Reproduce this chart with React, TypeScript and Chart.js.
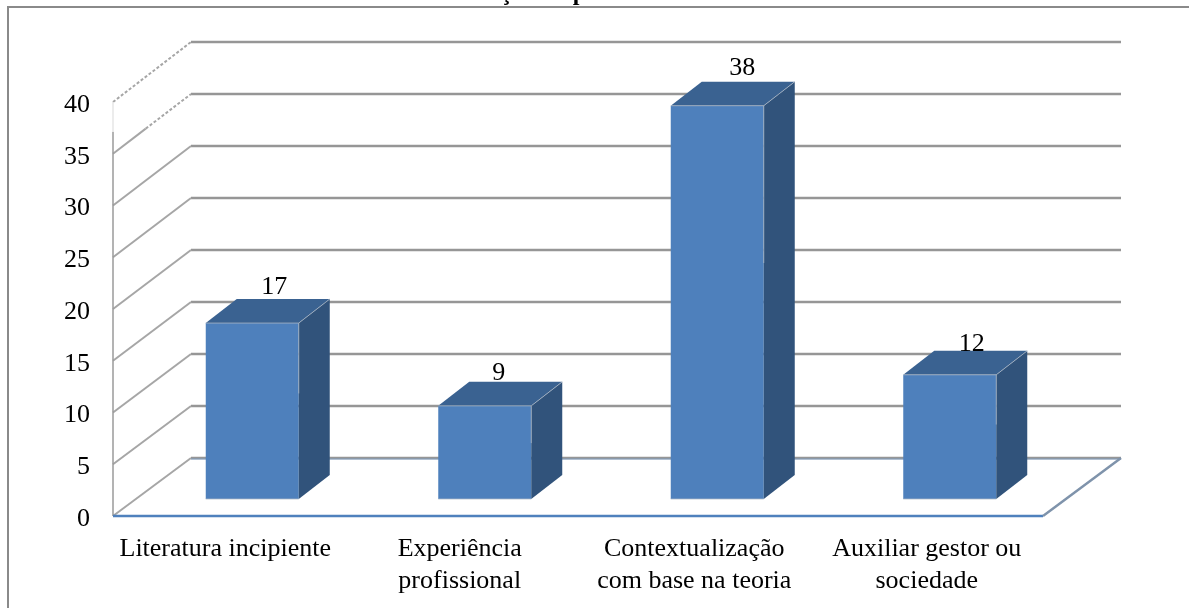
import React, { useEffect, useRef } from "react";
import { Chart, registerables } from "chart.js";

Chart.register(...registerables);

const categories = [
  "Literatura incipiente",
  ["Experiência", "profissional"],
  ["Contextualização", "com base na teoria"],
  ["Auxiliar gestor ou", "sociedade"],
];
const values = [17, 9, 38, 12];
const yTicks = [0, 5, 10, 15, 20, 25, 30, 35, 40];
const titleText = "Justificação do problema";

const SERIF = '"Liberation Serif", "Times New Roman", serif';
const WALL_DX = 78;
const BAR_DX = 23;
const BAR_DY = -17;
const BAR_DEPTH_X = 31;
const BAR_DEPTH_Y = -24;
// Where each value label sits relative to the top centre of its bar's front face.
const LABEL_OFFSETS = [
  [22, -36],
  [14, -33],
  [25, -38],
  [22, -31],
];
// Sideways nudge of the category captions under the floor.
const CAPTION_NUDGE = [-4, -2, 0, 0];

// Depth of the floor and walls grows by a hair towards the top of the box.
const wallLift = (v: number) => 58 + (2 * v) / 40;

const line = (ctx: any, x1: number, y1: number, x2: number, y2: number) => {
  ctx.beginPath();
  ctx.moveTo(x1, y1);
  ctx.lineTo(x2, y2);
  ctx.stroke();
};

const boxPlugin = {
  id: "box3d",
  afterUpdate(chart: any) {
    // optical centring of the serif numerals on their gridlines
    chart.scales.y.getLabelItems(chart.chartArea).forEach((item: any) => {
      item.options.translation[1] += 3;
    });
    chart.scales.x.getLabelItems(chart.chartArea).forEach((item: any, i: number) => {
      item.options.translation[0] += CAPTION_NUDGE[i];
    });
  },
  beforeDatasetsDraw(chart: any) {
    const { ctx, chartArea: a, scales } = chart;
    const y = scales.y;
    ctx.save();

    // outer frame: only the top and left edges fall inside the page
    ctx.strokeStyle = "#8a8a8a";
    ctx.lineWidth = 2;
    line(ctx, 8, 7, 1189, 7);
    line(ctx, 8, 6, 8, 608);

    // chart title, mostly above the page edge
    ctx.fillStyle = "#000";
    ctx.font = `bold 24px ${SERIF}`;
    ctx.textAlign = "left";
    ctx.textBaseline = "alphabetic";
    ctx.fillText(titleText, 414, 0);

    // back wall gridlines
    yTicks.forEach((v) => {
      const py = y.getPixelForValue(v) - wallLift(v);
      ctx.strokeStyle = "#969696";
      ctx.lineWidth = 2.5;
      line(ctx, a.left + WALL_DX, py, a.right + WALL_DX, py);
    });

    // side wall lines running from the axis to the back wall
    yTicks.forEach((v) => {
      const py = y.getPixelForValue(v);
      const backX = a.left + WALL_DX;
      const backY = py - wallLift(v);
      ctx.strokeStyle = "#a6a6a6";
      ctx.lineWidth = 2;
      if (v >= 40) {
        ctx.setLineDash([3, 2]);
        line(ctx, a.left, py, backX, backY);
      } else if (v === 35) {
        const midX = a.left + WALL_DX * 0.42;
        const midY = py - wallLift(v) * 0.42;
        line(ctx, a.left, py, midX, midY);
        ctx.setLineDash([3, 2]);
        line(ctx, midX, midY, backX, backY);
      } else {
        line(ctx, a.left, py, backX, backY);
      }
      ctx.setLineDash([]);
    });

    // vertical axis, fading out over its top section
    ctx.strokeStyle = "#9a9a9a";
    ctx.lineWidth = 1.5;
    line(ctx, a.left, a.bottom, a.left, y.getPixelForValue(35) - 22);
    ctx.strokeStyle = "#e6e6e6";
    line(ctx, a.left, y.getPixelForValue(35) - 22, a.left, y.getPixelForValue(40));

    // floor outline
    const floorBack = a.bottom - wallLift(0);
    ctx.strokeStyle = "#4f81bd";
    ctx.lineWidth = 2.5;
    line(ctx, a.left, a.bottom, a.right, a.bottom);
    ctx.strokeStyle = "#7f9cbf";
    ctx.lineWidth = 1;
    line(ctx, a.left + WALL_DX, floorBack + 1, a.right + WALL_DX, floorBack + 1);
    ctx.strokeStyle = "#7f93ab";
    ctx.lineWidth = 2.5;
    line(ctx, a.right, a.bottom, a.right + WALL_DX, floorBack);

    ctx.restore();

    // the fronts of the bars stand part way into the box
    ctx.save();
    ctx.translate(BAR_DX, BAR_DY);
  },
  afterDatasetsDraw(chart: any) {
    const { ctx } = chart;
    ctx.restore();
    ctx.save();
    const bars = chart.getDatasetMeta(0).data;
    bars.forEach((bar: any, i: number) => {
      const l = bar.x - bar.width / 2 + BAR_DX;
      const r = bar.x + bar.width / 2 + BAR_DX;
      const t = bar.y + BAR_DY;
      const b = bar.base + BAR_DY;

      // right side face
      ctx.fillStyle = "#31537b";
      ctx.beginPath();
      ctx.moveTo(r, t);
      ctx.lineTo(r + BAR_DEPTH_X, t + BAR_DEPTH_Y);
      ctx.lineTo(r + BAR_DEPTH_X, b + BAR_DEPTH_Y);
      ctx.lineTo(r, b);
      ctx.closePath();
      ctx.fill();

      // top face
      ctx.fillStyle = "#3a6291";
      ctx.beginPath();
      ctx.moveTo(l, t);
      ctx.lineTo(l + BAR_DEPTH_X, t + BAR_DEPTH_Y);
      ctx.lineTo(r + BAR_DEPTH_X, t + BAR_DEPTH_Y);
      ctx.lineTo(r, t);
      ctx.closePath();
      ctx.fill();

      // pale edges of the block
      ctx.strokeStyle = "rgba(175,185,198,0.75)";
      ctx.lineWidth = 1;
      line(ctx, l, t, r, t);
      line(ctx, l, b, r, b);
      line(ctx, r, t, r + BAR_DEPTH_X, t + BAR_DEPTH_Y);
      line(ctx, r, t, r, t + (b - t) * 0.4);

      // value label
      const [dx, dy] = LABEL_OFFSETS[i];
      ctx.fillStyle = "#000";
      ctx.font = `26px ${SERIF}`;
      ctx.textAlign = "center";
      ctx.textBaseline = "middle";
      ctx.fillText(String(values[i]), (l + r) / 2 + dx, t + dy);
    });
    ctx.restore();
  },
};

export default function App() {
  const ref = useRef<HTMLCanvasElement>(null);

  useEffect(() => {
    document.body.style.margin = "0";
    document.body.style.background = "#fff";
    const chart = new Chart(ref.current!, {
      type: "bar",
      data: {
        labels: categories as any,
        datasets: [
          {
            data: values,
            backgroundColor: "#4e80bc",
            categoryPercentage: 1,
            barPercentage: 0.4,
            clip: false as any,
          },
        ],
      },
      options: {
        animation: false,
        responsive: false,
        layout: { padding: { left: 0, right: 146, top: 102, bottom: 0 } },
        plugins: { legend: { display: false }, tooltip: { enabled: false } },
        scales: {
          x: {
            grid: { display: false, drawTicks: false },
            border: { display: false },
            afterFit: (s: any) => {
              s.height = 92;
            },
            ticks: {
              color: "#000",
              padding: 18,
              maxRotation: 0,
              autoSkip: false,
              font: { family: SERIF, size: 26, lineHeight: 1.2 },
            },
          },
          y: {
            min: 0,
            max: 40,
            grid: { display: false, drawTicks: false },
            border: { display: false },
            afterFit: (s: any) => {
              s.width = 113;
            },
            ticks: {
              color: "#000",
              stepSize: 5,
              padding: 23,
              font: { family: SERIF, size: 26 },
            },
          },
        },
      },
      plugins: [boxPlugin],
    });
    return () => chart.destroy();
  }, []);

  return (
    <canvas
      ref={ref}
      width={1189}
      height={608}
      style={{ display: "block", width: 1189, height: 608 }}
    />
  );
}
